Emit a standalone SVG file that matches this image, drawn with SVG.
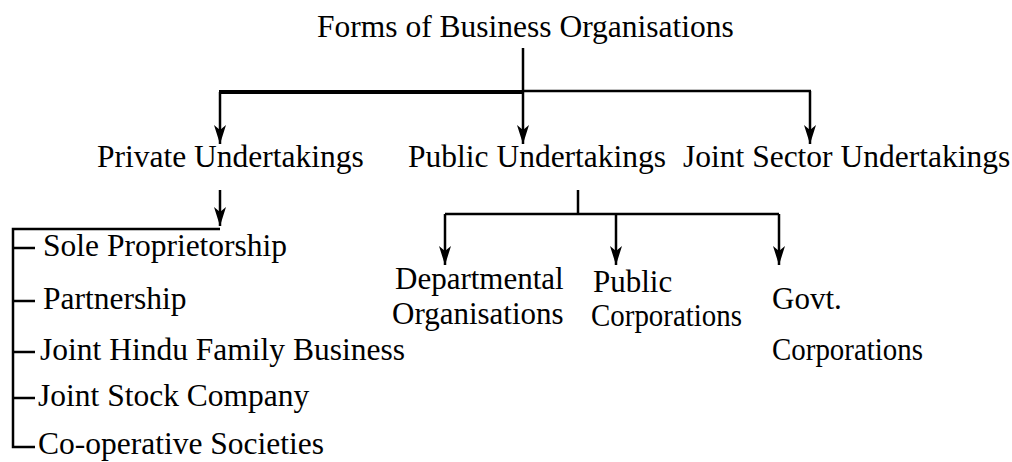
<svg xmlns="http://www.w3.org/2000/svg" width="1012" height="462" viewBox="0 0 1012 462">
<style>
text{font-family:"Liberation Serif","Times New Roman",serif;font-size:31.5px;fill:#000}
.sub{font-size:31px}
.ln{stroke:#000;stroke-width:2.5;fill:none}
</style>
<defs>
<marker id="ah" markerUnits="userSpaceOnUse" markerWidth="20" markerHeight="14" viewBox="0 0 20 14" refX="19" refY="7" orient="auto">
<path d="M0,1 L5,7 L0,13 L19,7 Z" fill="#000"/>
</marker>
</defs>
<rect width="1012" height="462" fill="#fff"/>
<g id="connectors">
<line class="ln" x1="523" y1="48" x2="523" y2="92"/>
<line x1="219" y1="92" x2="523" y2="92" stroke="#000" stroke-width="4"/>
<line class="ln" x1="523" y1="91" x2="811" y2="91"/>
<polyline class="ln" points="220,92 220,144" marker-end="url(#ah)"/>
<polyline class="ln" points="523,92 523,144" marker-end="url(#ah)"/>
<polyline class="ln" points="810,91 810,144" marker-end="url(#ah)"/>
<polyline class="ln" points="220,190 220,226" marker-end="url(#ah)"/>
<polyline class="ln" points="220,229 13,229 13,447 35,447"/>
<line class="ln" x1="13" y1="248" x2="35" y2="248"/>
<line class="ln" x1="13" y1="301" x2="35" y2="301"/>
<line class="ln" x1="13" y1="352" x2="35" y2="352"/>
<line class="ln" x1="13" y1="398" x2="35" y2="398"/>
<line class="ln" x1="578" y1="190" x2="578" y2="214"/>
<line class="ln" x1="445" y1="214" x2="779" y2="214"/>
<polyline class="ln" points="445,214 445,265" marker-end="url(#ah)"/>
<polyline class="ln" points="616,214 616,265" marker-end="url(#ah)"/>
<polyline class="ln" points="779,214 779,265" marker-end="url(#ah)"/>
</g>
<g id="root"><text x="317" y="37">Forms of Business Organisations</text></g>
<g id="private"><text x="97" y="167">Private Undertakings</text></g>
<g id="public"><text x="408" y="167">Public Undertakings</text></g>
<g id="joint-sector"><text x="683" y="167">Joint Sector Undertakings</text></g>
<g id="sole"><text x="43" y="256">Sole Proprietorship</text></g>
<g id="partnership"><text x="43" y="309">Partnership</text></g>
<g id="jhfb"><text x="40" y="360">Joint Hindu Family Business</text></g>
<g id="jsc"><text x="38" y="406">Joint Stock Company</text></g>
<g id="coop"><text x="38" y="454">Co-operative Societies</text></g>
<g id="departmental"><text class="sub" x="395" y="289">Departmental</text><text class="sub" x="392" y="324">Organisations</text></g>
<g id="public-corp"><text class="sub" x="593" y="292">Public</text><text class="sub" x="591" y="326" textLength="151" lengthAdjust="spacingAndGlyphs">Corporations</text></g>
<g id="govt-corp"><text class="sub" x="772" y="309">Govt.</text><text class="sub" x="772" y="360" textLength="151" lengthAdjust="spacingAndGlyphs">Corporations</text></g>
</svg>
